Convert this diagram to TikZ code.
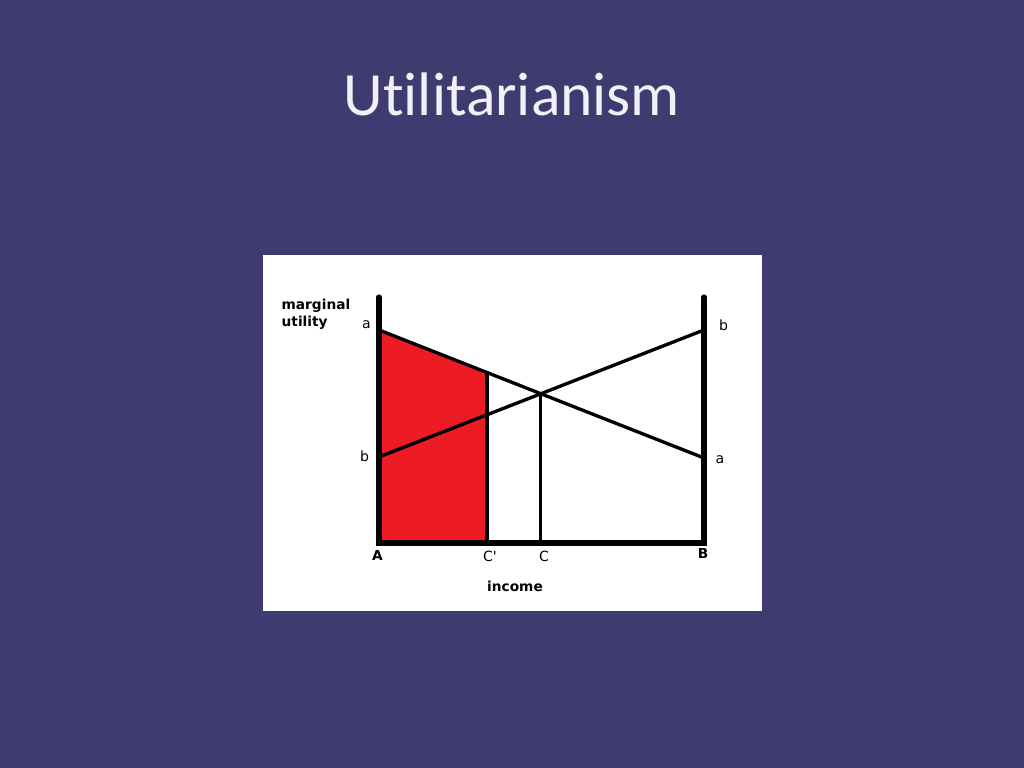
\documentclass[tikz,border=0pt]{standalone}
\usepackage{fontspec, tkz-euclide}
\setmainfont{DejaVu Sans}
\newfontfamily\titlefont[Ligatures=NoCommon]{Carlito}
\definecolor{slidebg}{RGB}{63,58,111}
\definecolor{titlegray}{RGB}{240,240,245}
\definecolor{paintred}{RGB}{237,28,36}
\tikzset{>=stealth,
  lbl/.style={anchor=base, inner sep=0pt, font=\fontsize{4}{4.8}\selectfont},
  blbl/.style={lbl, font=\fontsize{3.9}{4.7}\selectfont\bfseries}}

\begin{document}
\begin{tikzpicture}
\tkzDefPoints{0/0/O, 10.24/7.68/Z, 2.63/1.57/P1, 7.62/5.13/P2}
\fill[slidebg] (O) rectangle (Z);
\fill[white] (P1) rectangle (P2);
\node[anchor=base, inner sep=0pt, text=titlegray, font=\titlefont\fontsize{17.5}{20}\selectfont] (title) at (5.12,6.52) {Utilitarianism};
\tkzDefPoints{3.79/2.25/A, 7.04/2.25/B, 3.79/4.71/T, 7.04/4.71/U, 4.87/2.25/Cp}
\tkzDefPoints{3.79/4.38/aL, 7.04/3.10/aR, 3.79/3.11/bL, 7.04/4.38/bR}
\tkzInterLL(aL,aR)(bL,bR) \tkzGetPoint{I}
\tkzDefPointBy[projection=onto A--B](I) \tkzGetPoint{C}
\tkzDefShiftPoint[Cp](90:1){Q}
\tkzInterLL(aL,aR)(Cp,Q) \tkzGetPoint{H}
\tkzFillPolygon[fill=paintred](A,Cp,H,aL)
\tkzDrawSegments[line width=0.95pt](aL,aR bL,bR Cp,H)
\tkzDrawSegments[line width=0.8pt](C,I)
\tkzDrawPolySeg[line width=1.45pt, line cap=round, line join=miter](T,A,B,U)
% \tkzDrawPoints(I,H)
\node[lbl] (la1) at (3.665,4.39) {a};
\node[lbl] (lb1) at (3.645,3.06) {b};
\node[lbl] (lb2) at (7.235,4.37) {b};
\node[lbl] (la2) at (7.20,3.04) {a};
\node[blbl] (tA) at (3.775,2.07) {A};
\node[lbl] (tCp) at (4.90,2.06) {C\textquotesingle};
\node[lbl] (tC) at (5.44,2.06) {C};
\node[blbl] (tB) at (7.03,2.09) {B};
\node[blbl] (inc) at (5.15,1.76) {income};
\node[blbl, anchor=base west] (mu1) at (2.81,4.58) {marginal};
\node[blbl, anchor=base west] (mu2) at (2.81,4.41) {utility};
\end{tikzpicture}
\end{document}
